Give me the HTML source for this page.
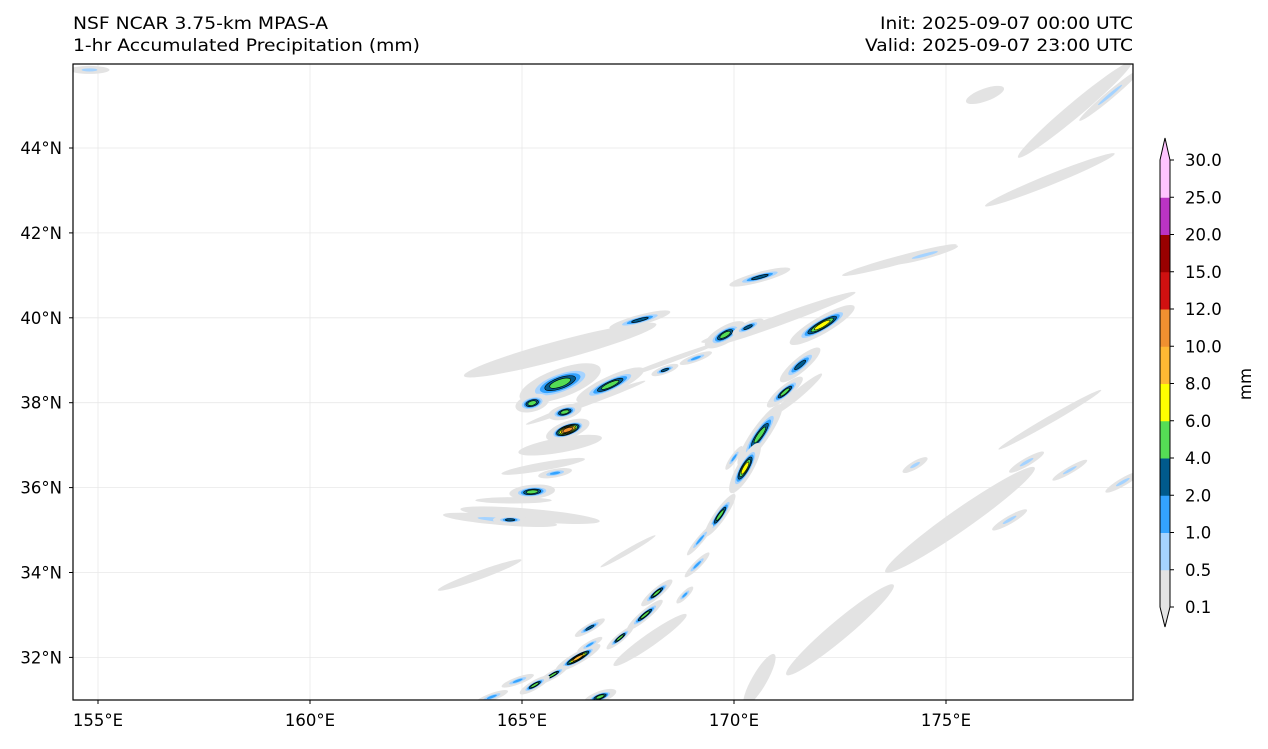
<!DOCTYPE html>
<html><head><meta charset="utf-8"><style>
body{margin:0;background:#fff;width:1268px;height:745px;overflow:hidden;font-family:"DejaVu Sans","Liberation Sans",sans-serif}
svg text{font-family:"DejaVu Sans","Liberation Sans",sans-serif;font-size:16.5px;fill:#000}
svg text.ttl{font-size:17px}
</style></head><body>
<svg id="chart" width="1268" height="745" viewBox="0 0 1268 745" xmlns="http://www.w3.org/2000/svg">
<text class="ttl" x="73" y="29" textLength="255" lengthAdjust="spacingAndGlyphs">NSF NCAR 3.75-km MPAS-A</text>
<text class="ttl" x="73" y="51" textLength="347" lengthAdjust="spacingAndGlyphs">1-hr Accumulated Precipitation (mm)</text>
<text class="ttl" x="880" y="29" textLength="253" lengthAdjust="spacingAndGlyphs">Init: 2025-09-07 00:00 UTC</text>
<text class="ttl" x="865" y="51" textLength="268" lengthAdjust="spacingAndGlyphs">Valid: 2025-09-07 23:00 UTC</text>
<defs><clipPath id="mapclip"><rect x="73" y="64" width="1060" height="636"/></clipPath></defs>
<g id="grid"></g>
<g id="precip" clip-path="url(#mapclip)"></g>
<rect x="73" y="64" width="1060" height="636" fill="none" stroke="#000" stroke-width="1.2"/>
<g id="axes"></g>
<g id="cbar"></g>
<text x="1251" y="384" transform="rotate(-90 1251 384)" text-anchor="middle">mm</text>
</svg>
<script>
const lonTicks=[155,160,165,170,175];
const latTicks=[32,34,36,38,40,42,44];
const levelBounds=["0.1","0.5","1.0","2.0","4.0","6.0","8.0","10.0","12.0","15.0","20.0","25.0","30.0"];
const levelColors=["#e3e3e3","#a5d3ff","#33a3ff","#005a8c","#55dd55","#ffff00","#ffb833","#f09030","#d01010","#990000","#bb33c4","#ffc4ff"];
const featLon=[178.04,177.45,175.92,173.9,171.08,175.33,172.5,177.45,165.9,165.9,165.19,168.02,164.0,170.6,166.5,165.5,164.8,168.5,167.5,171.5,
178.87,174.5,170.14,174.27,177.92,176.5,179.17,154.8,164.48,
172.08,170.61,170.26,169.67,171.56,171.2,170.61,167.78,169.79,170.33,165.9,167.08,165.24,166.08,166.01,165.24,164.72,165.78,168.37,169.1,169.13,168.84,168.18,167.9,167.31,166.6,166.32,165.73,165.3,164.9,166.84,164.29,169.2,170.0,166.6,176.9];
const featLat=[44.9,43.25,45.25,41.36,39.95,35.24,32.65,37.6,39.24,37.0,35.35,32.41,33.94,31.47,38.0,36.5,35.7,39.0,34.5,38.2,
45.25,41.48,39.67,36.53,36.41,35.24,36.13,45.84,35.24,
39.83,37.24,36.46,35.35,38.89,38.25,40.96,39.95,39.6,39.78,38.46,38.42,37.99,37.36,37.78,35.9,35.24,36.34,38.77,39.05,34.18,33.47,33.52,33.0,32.46,32.7,31.99,31.59,31.35,31.45,31.07,31.07,34.77,36.7,32.3,36.6];
const featPeak=[0,0,0,0,0,0,0,0,0,0,0,0,0,0,0,0,0,0,0,0,
1,1,1,1,1,1,1,1,1,
5,4,5,4,3,4,3,3,4,3,4,4,4,7,4,4,3,2,3,2,2,2,4,4,4,3,6,4,4,2,4,2,2,2,2,1];
const featLenDeg=[3.5,3.3,0.95,2.8,3.8,4.3,3.3,2.8,4.7,2.0,3.3,2.1,2.1,1.4,3.0,2.0,1.8,2.5,1.5,1.5,
1.4,1.2,1.4,0.5,0.7,0.7,0.7,0.7,2.0,
1.3,1.3,1.0,0.9,0.9,0.8,1.1,1.1,0.8,0.6,1.5,1.3,0.6,0.8,0.6,0.8,0.6,0.6,0.5,0.6,0.6,0.4,0.7,0.8,0.6,0.6,0.9,0.6,0.6,0.6,0.6,0.6,0.7,0.5,0.5,0.7];
const featWidDeg=[0.35,0.25,0.3,0.2,0.25,0.5,0.45,0.17,0.45,0.35,0.3,0.3,0.2,0.35,0.15,0.2,0.15,0.12,0.12,0.2,
0.14,0.14,0.14,0.14,0.12,0.14,0.14,0.14,0.18,
0.3,0.3,0.28,0.2,0.25,0.22,0.18,0.18,0.3,0.18,0.5,0.3,0.3,0.3,0.25,0.25,0.15,0.15,0.14,0.13,0.13,0.12,0.17,0.17,0.14,0.14,0.2,0.14,0.16,0.13,0.2,0.13,0.12,0.12,0.12,0.14];
const featAngle=[-40,-22,-20,-15,-20,-35,-40,-30,-15,-10,5,-35,-20,-60,-20,-10,0,-20,-30,-40,
-40,-15,-15,-30,-30,-30,-30,0,5,
-30,-55,-60,-55,-40,-40,-15,-15,-30,-25,-20,-25,-15,-20,-15,-5,0,-10,-20,-20,-45,-45,-40,-40,-40,-30,-30,-30,-30,-20,-20,-20,-50,-55,-30,-30];

const NS="http://www.w3.org/2000/svg";
const PX=42.4;
const xOf=lon=>98+(lon-155)*PX;
const yOf=lat=>148+(44-lat)*42.45;
function mk(tag,attrs,parent){const e=document.createElementNS(NS,tag);for(const k in attrs)e.setAttribute(k,attrs[k]);parent.appendChild(e);return e;}
const grid=document.getElementById('grid'),axes=document.getElementById('axes');
lonTicks.forEach(l=>{const x=xOf(l);
 const g=mk('line',{x1:x,x2:x,y1:64,y2:700,stroke:'#e8e8e8','stroke-width':0.8},grid);
 
 
 mk('line',{x1:x,x2:x,y1:700,y2:704,stroke:'#000'},axes);
 const t=mk('text',{x:x,y:726,'text-anchor':'middle'},axes);t.textContent=l+'°E';
 
 });
latTicks.forEach(l=>{const y=yOf(l);
 const g=mk('line',{x1:73,x2:1133,y1:y,y2:y,stroke:'#e8e8e8','stroke-width':0.8},grid);
 
 
 mk('line',{x1:69,x2:73,y1:y,y2:y,stroke:'#000'},axes);
 const t=mk('text',{x:62,y:y+6,'text-anchor':'end'},axes);t.textContent=l+'°N';
 
 });
const precip=document.getElementById('precip');
for(let i=0;i<featLon.length;i++){
 const cx=xOf(featLon[i]),cy=yOf(featLat[i]),p=featPeak[i];
 for(let k=0;k<=p;k++){
  let s=1-0.75*k/(p+0.6);
  if(k===0&&p>0)s=1.35;
  const e=mk('ellipse',{cx:cx,cy:cy,rx:featLenDeg[i]*PX/2*s,ry:Math.max(1,featWidDeg[i]*PX/2*s),
   transform:`rotate(${featAngle[i]} ${cx} ${cy})`,fill:levelColors[k]},precip);
  if(k>=3){e.setAttribute('stroke','#000');e.setAttribute('stroke-width','0.6');}
  
  
 }
}
const cb=document.getElementById('cbar');
const cbX=1160,cbW=10,cbTop=160,cbBot=607,n=levelColors.length;
const step=(cbBot-cbTop)/n;
for(let k=0;k<n;k++){
 const y=cbBot-(k+1)*step;
 const r=mk('rect',{x:cbX,y:y,width:cbW,height:step+0.5,fill:levelColors[k]},cb);
 
 
}
mk('polygon',{points:`${cbX},${cbTop} ${cbX+cbW/2},138 ${cbX+cbW},${cbTop}`,fill:levelColors[n-1]},cb);
mk('polygon',{points:`${cbX},${cbBot} ${cbX+cbW/2},627 ${cbX+cbW},${cbBot}`,fill:levelColors[0]},cb);
mk('polygon',{points:`${cbX},${cbTop} ${cbX+cbW/2},138 ${cbX+cbW},${cbTop} ${cbX+cbW},${cbBot} ${cbX+cbW/2},627 ${cbX},${cbBot}`,fill:'none',stroke:'#000','stroke-width':1},cb);
levelBounds.forEach((b,k)=>{const y=cbBot-k*step;
 mk('line',{x1:cbX+cbW,x2:cbX+cbW+4,y1:y,y2:y,stroke:'#000'},cb);
 const t=mk('text',{x:1185,y:y+6},cb);t.textContent=b;
 
 });
</script>
</body></html>
